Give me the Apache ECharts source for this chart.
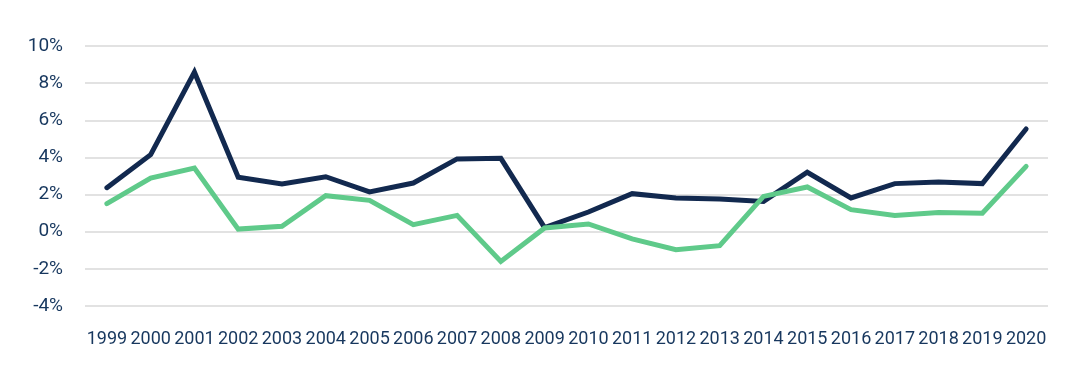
<!DOCTYPE html>
<html>
<head>
<meta charset="utf-8">
<script src="https://cdn.jsdelivr.net/npm/echarts@6/dist/echarts.min.js"></script>
<style>
html,body{margin:0;padding:0;background:#fff;}
#c{width:1089px;height:390px;}
</style>
</head>
<body>
<div id="c"></div>
<script>
var years = ['1999','2000','2001','2002','2003','2004','2005','2006','2007','2008','2009','2010','2011','2012','2013','2014','2015','2016','2017','2018','2019','2020'];
var seriesDark = [2.37,4.15,8.59,2.93,2.57,2.96,2.14,2.62,3.92,3.95,0.22,1.06,2.05,1.82,1.76,1.63,3.2,1.82,2.59,2.68,2.59,5.53];
var seriesGreen = [1.51,2.89,3.43,0.14,0.29,1.94,1.69,0.38,0.88,-1.6,0.2,0.42,-0.39,-0.97,-0.75,1.9,2.41,1.19,0.88,1.04,1.0,3.52];
var yTicks = {min:-4, max:10, interval:2};

var font = 'Roboto, sans-serif';
var chart = echarts.init(document.getElementById('c'), null, {renderer:'canvas'});
chart.setOption({
  animation:false,
  backgroundColor:'#ffffff',
  grid:{left:85, right:41, top:46, bottom:84, containLabel:false},
  xAxis:{
    type:'category', data:years, boundaryGap:true,
    axisLine:{show:false}, axisTick:{show:false},
    axisLabel:{color:'#17375e', fontFamily:font, fontSize:18, margin:24, interval:0}
  },
  yAxis:{
    type:'value', min:yTicks.min, max:yTicks.max, interval:yTicks.interval,
    axisLine:{show:false}, axisTick:{show:false},
    axisLabel:{color:'#17375e', fontFamily:font, fontSize:19, margin:22, formatter:'{value}%'},
    splitLine:{lineStyle:{color:'#d9d9d9', width:1.5}}
  },
  series:[
    {type:'line', data:seriesDark, symbol:'none', lineStyle:{color:'#12294f', width:5, cap:'round', join:'miter'}},
    {type:'line', data:seriesGreen, symbol:'none', lineStyle:{color:'#5fca8a', width:5, cap:'round', join:'miter'}}
  ]
});
</script>
</body>
</html>
